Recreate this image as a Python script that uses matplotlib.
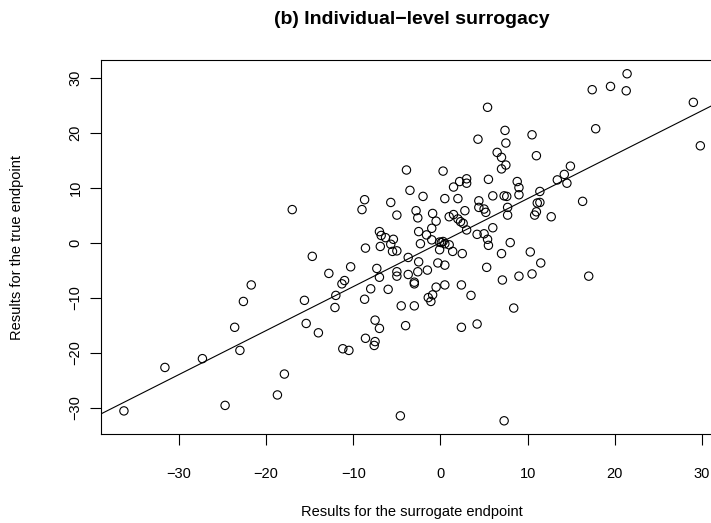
import matplotlib
matplotlib.use("Agg")
import matplotlib.pyplot as plt
import numpy as np

plt.rcParams["font.family"] = ["Liberation Sans", "DejaVu Sans"]

# surrogate (x) and true (y) endpoint results
surrogate = [
    5.4, 7.4, 4.3, 7.5, 6.5, 7.0, 7.5, 7.0, -3.9, 0.3, 5.5, 2.2, 3.0, 3.0,
    21.4, 17.4, 19.5, 21.3, 29.0, 10.5, 17.8, 29.8, 11.0, 14.9, 14.2, 13.4,
    14.5, 8.8,
    -17.0, -21.7, -22.6, -15.6,
    -3.5, -8.7, -9.0, -5.7, -5.0, -2.0, 0.5, 2.0, 1.5, -2.8, -2.6, -0.9,
    -0.5, 1.0, 1.5, 2.0, 2.3, 2.6, 2.8, 3.0, 4.4, 4.4, 5.0, 5.2, 6.0, 7.3,
    7.6, 7.7, 6.0, 4.2, 5.0, 5.4, 5.5, 8.0, 7.0, 5.3, 7.1, -2.5, -1.6, -1.0,
    -1.0, -2.3, -0.1, 0.1, 0.3, 0.5, -0.1, 1.0, 1.4, 2.5, -7.0, -6.8, -6.3,
    -5.4, -5.7, -5.5, -5.0, -6.9, -8.6, -3.7, -2.5, -0.3, 0.5, -1.5, -2.6,
    -3.7, -5.0, -5.0, -7.3, -7.0, -10.3, -12.8, -14.7, -11.0, -11.3, -12.0,
    -12.1, -8.7, -8.0, -6.0, -3.0, -3.0, -0.5, 0.5, 2.4, 3.5, -1.4, -0.9,
    -1.1, -4.5, -3.0,
    9.0, 9.0, 11.4, 7.7, 11.1, 11.4, 11.0, 10.8, 12.7, 16.3, 10.3, 11.5,
    9.0, 10.5, 17.0, 8.4,
    -23.6, -23.0, -27.3, -31.6, -36.3, -24.7, -18.7, -17.9, -15.4,
    -14.0, -7.5, -7.0, -8.6, -7.5, -7.6, -11.2, -10.5, -4.0, 2.4, 4.2,
    -4.6, 7.3,
]
true_ep = [
    24.6, 20.4, 18.8, 18.1, 16.4, 15.5, 14.1, 13.4, 13.2, 13.0, 11.5, 11.1,
    11.6, 10.8,
    30.7, 27.8, 28.4, 27.6, 25.5, 19.6, 20.7, 17.6, 15.8, 13.9, 12.4, 11.4,
    10.8, 11.1,
    6.0, -7.7, -10.7, -10.5,
    9.5, 7.8, 6.0, 7.3, 5.0, 8.4, 8.0, 8.0, 10.1, 5.8, 4.5, 5.3,
    3.9, 4.7, 5.1, 4.3, 3.8, 3.5, 5.8, 2.3, 7.6, 6.4, 6.1, 5.5, 8.5, 8.5,
    8.4, 5.0, 2.7, 1.5, 1.6, 0.6, -0.5, 0.0, -2.0, -4.5, -6.8, 2.0, 1.4, 2.6,
    0.5, -0.2, 0.1, 0.0, 0.2, -0.2, -1.3, -0.4, -1.6, -2.0, 2.0, 1.3, 0.9,
    0.6, -0.3, -1.6, -1.5, -0.7, -1.0, -2.7, -3.5, -3.7, -4.1, -5.0, -5.3,
    -5.8, -5.3, -6.1, -4.7, -6.3, -4.4, -5.6, -2.5, -6.9, -7.5, -9.6,
    -11.8, -10.3, -8.4, -8.5, -7.2, -7.5, -8.1, -7.7, -7.7, -9.6, -10.0, -9.5,
    -10.7, -11.5, -11.5,
    10.0, 8.7, 9.3, 6.4, 7.2, 7.3, 5.6, 5.0, 4.7, 7.5, -1.7, -3.7,
    -6.1, -5.7, -6.1, -11.9,
    -15.4, -19.6, -21.1, -22.7, -30.6, -29.6, -27.7, -23.9, -14.7,
    -16.4, -14.1, -15.6, -17.4, -18.0, -18.7, -19.3, -19.6, -15.1, -15.4, -14.8,
    -31.5, -32.4,
]
slope = 0.8
intercept = 0.0

x_ticks = [-30, -20, -10, 0, 10, 20, 30]
y_ticks = [-30, -20, -10, 0, 10, 20, 30]

fig = plt.figure(figsize=(7.11, 5.23), dpi=100)
# plot region runs past the right edge, as in the cropped reference
ax = fig.add_axes([101 / 711, 89 / 523, 622 / 711, 374 / 523])

ax.scatter(surrogate, true_ep, s=36, facecolors="none", edgecolors="black",
           linewidths=0.8, zorder=3)
xlim = (-38.93, 32.4)
xs = np.array(xlim)
ax.plot(xs, intercept + slope * xs, color="black", lw=0.8)
ax.set_xlim(xlim)
ax.set_ylim(-34.8, 33.2)

ax.set_xticks(x_ticks)
ax.set_yticks(y_ticks)
ax.set_xticklabels([str(t).replace("-", "\u2212") for t in x_ticks])
ax.set_yticklabels([str(t).replace("-", "\u2212") for t in y_ticks],
                   rotation=90, va="center")
ax.tick_params(direction="out", length=8, width=0.8, labelsize=10.5)
ax.tick_params(axis="x", pad=16)
ax.tick_params(axis="y", pad=5.3)
for sp in ax.spines.values():
    sp.set_linewidth(0.8)

ax.set_xlabel("Results for the surrogate endpoint", fontsize=10.5, labelpad=17)
ax.set_ylabel("Results for the true endpoint", fontsize=10.5, labelpad=32)
fig.text(412 / 711, 1 - 20 / 523, "(b) Individual\u2212level surrogacy",
         ha="center", va="center", fontsize=14, fontweight="bold")

plt.savefig("out.png", dpi=100)
plt.close()
